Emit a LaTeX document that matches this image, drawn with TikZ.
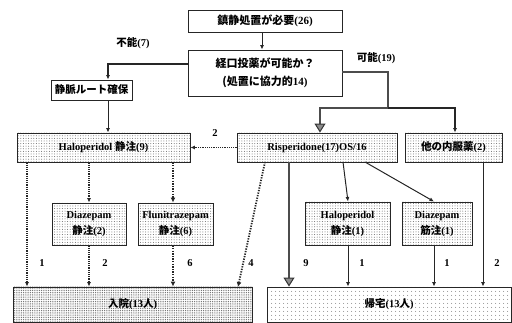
\documentclass[tikz,border=0pt]{standalone}
\usepackage{fontspec}
\setmainfont{Liberation Serif}
\newfontfamily\jp{Noto Sans CJK JP}
\usetikzlibrary{arrows.meta,patterns.meta}
\tikzset{
  x=1pt,y=-1pt,
  box/.style={draw=black!85, line width=0.9pt, inner sep=0pt, align=center, font=\bfseries\fontsize{10.5}{13}\selectfont},
  plainbox/.style={box, fill=white},
  dotbox/.style={box, pattern={Dots[distance=2.6pt,radius=0.5pt]}, pattern color=black!60},
  admbox/.style={box, pattern={Dots[distance=1.8pt,radius=0.5pt]}, pattern color=black!65},
  homebox/.style={box, pattern={Dots[distance=4pt,radius=0.55pt]}, pattern color=black!65},
  arr/.style={draw=black!85, line width=1pt, -{Latex[length=4.5pt,width=4pt]}},
  darr/.style={draw=black!85, line width=1.1pt, dash pattern=on 1.1pt off 1.1pt, -{Latex[length=4.5pt,width=4pt]}},
  tdarr/.style={draw=black!85, line width=1.8pt, dash pattern=on 1.3pt off 1.3pt, -{Latex[length=5pt,width=5pt]}},
  fatline/.style={draw=black!70, line width=2.8pt},
  fatarr/.style={fatline, -{Triangle[length=9pt,width=11pt,fill=black!45,color=black!80,line width=1pt]}},
  lbl/.style={font=\bfseries\fontsize{10.5}{12}\selectfont, inner sep=0pt},
}
\begin{document}
\begin{tikzpicture}
\useasboundingbox (0,0) rectangle (512,323);
% x/y helper coordinates
\coordinate (x27) at (27,0);
\coordinate (x89) at (89,0);
\coordinate (x108) at (108,0);
\coordinate (x173) at (173,0);
\coordinate (x262) at (262,0);
\coordinate (x289) at (289,0);
\coordinate (x320) at (320,0);
\coordinate (x348) at (348,0);
\coordinate (x434) at (434,0);
\coordinate (x455) at (455,0);
\coordinate (x483) at (483,0);
\coordinate (y64) at (0,64);
\coordinate (y72) at (0,72);

% boxes
\node[plainbox, minimum width=154pt, minimum height=22pt, font=\bfseries\fontsize{11}{13}\selectfont] (top) at (265,21) {{\jp 鎮静処置が必要}(26)};
\node[plainbox, minimum width=154pt, minimum height=46pt, font=\bfseries\fontsize{11}{18}\selectfont] (q) at (265,73) {{\jp 経口投薬が可能か？}\\{\jp (処置に協力的}14)};
\node[plainbox, minimum width=81pt, minimum height=20pt] (vein) at (91.5,90) {\jp 静脈ルート確保};
\node[dotbox, minimum width=173pt, minimum height=29pt] (halo) at (103.5,147.5) {Haloperidol {\jp 静注}(9)};
\node[dotbox, minimum width=160pt, minimum height=29pt] (risp) at (317,147.5) {Risperidone(17)OS/16};
\node[dotbox, minimum width=97pt, minimum height=29pt] (other) at (453.5,147.5) {{\jp 他の内服薬}(2)};
\node[dotbox, minimum width=74pt, minimum height=42pt, font=\bfseries\fontsize{10.5}{16}\selectfont] (diaz1) at (89,224) {Diazepam\\{\jp 静注}(2)};
\node[dotbox, minimum width=75pt, minimum height=42pt, font=\bfseries\fontsize{10.5}{16}\selectfont] (flun) at (175.5,224) {Flunitrazepam\\{\jp 静注}(6)};
\node[dotbox, minimum width=85pt, minimum height=43pt, font=\bfseries\fontsize{10.5}{16}\selectfont] (halo2) at (347.5,223.5) {Haloperidol\\{\jp 静注}(1)};
\node[dotbox, minimum width=70pt, minimum height=43pt, font=\bfseries\fontsize{10.5}{16}\selectfont] (diaz2) at (437,223.5) {Diazepam\\{\jp 筋注}(1)};
\node[admbox, minimum width=239pt, minimum height=35pt] (adm) at (132.5,304.5) {{\jp 入院}(13{\jp 人})};
\node[homebox, minimum width=244pt, minimum height=35pt] (home) at (389,304.5) {{\jp 帰宅}(13{\jp 人})};

% top flow
\draw[arr] (top.south -| x262) -- (q.north -| x262);
\draw[line width=1.6pt, draw=black!85, -{Latex[length=4.5pt,width=4pt]}] (q.west |- y64) -| (vein.north -| x108);
\node[lbl] (ng) at (133,43) {{\jp 不能}(7)};
\draw[arr] (vein.south -| x108) -- (halo.north -| x108);

\coordinate (j1) at (388,108);
\draw[fatline] (q.east |- y72) -- (388,72) -- (j1);
\draw[fatarr] (j1) -- (320,108) -- (risp.north -| x320);
\draw[line width=1.6pt, draw=black!85, -{Latex[length=4.5pt,width=4pt]}] (j1) -| (other.north -| x455);
\node[lbl] (ok) at (376,58) {{\jp 可能}(19)};

% haloperidol branch
\draw[darr] (risp.west) -- (halo.east);
\node[lbl] (l2a) at (215,133) {2};
\draw[darr] (halo.south -| x89) -- (diaz1.north -| x89);
\draw[tdarr] (halo.south -| x173) -- (flun.north -| x173);
\draw[darr] (halo.south -| x27) -- (adm.north -| x27);
\node[lbl] (l1a) at (42,263) {1};
\draw[darr] (diaz1.south -| x89) -- (adm.north -| x89);
\node[lbl] (l2b) at (105,263) {2};
\draw[tdarr] (flun.south -| x173) -- (adm.north -| x173);
\node[lbl] (l6) at (190,263) {6};
\coordinate (rs) at (265,162);
\coordinate (ae) at (238,287);
\draw[tdarr] (rs) -- (ae);
\node[lbl] (l4) at (251,263) {4};

% risperidone branch
\draw[fatarr] (risp.south -| x289) -- (home.north -| x289);
\node[lbl] (l9) at (306,263) {9};
\coordinate (rs2) at (343,162);
\coordinate (rs3) at (365,162);
\draw[arr] (rs2) -- (halo2.north -| x348);
\draw[arr] (rs3) -- (diaz2.north -| x434);
\draw[arr] (halo2.south -| x348) -- (home.north -| x348);
\node[lbl] (l1b) at (362,263) {1};
\draw[arr] (diaz2.south -| x434) -- (home.north -| x434);
\node[lbl] (l1c) at (447,263) {1};
\draw[arr] (other.south -| x483) -- (home.north -| x483);
\node[lbl] (l2c) at (497,263) {2};
\end{tikzpicture}
\end{document}
